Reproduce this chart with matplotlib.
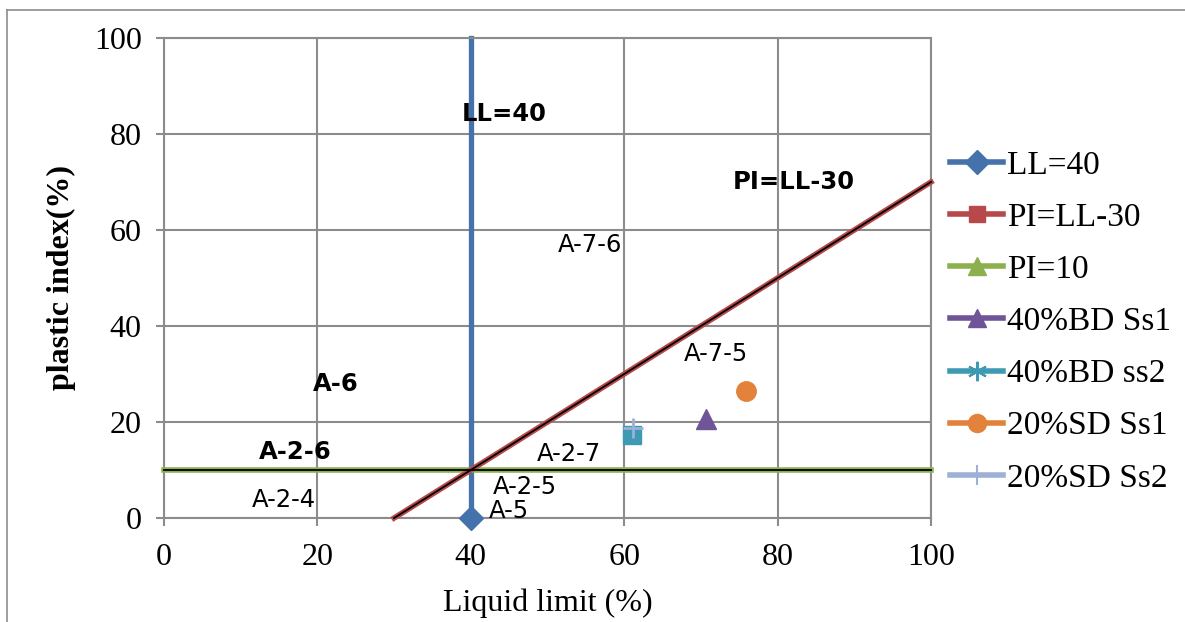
import matplotlib
matplotlib.use("Agg")
import matplotlib.pyplot as plt
from matplotlib.lines import Line2D

# ---- data ----
ll40_x = [40, 40]
ll40_y = [0, 100]
pi_ll30_x = [30, 100]
pi_ll30_y = [0, 70]
pi10_x = [0, 100]
pi10_y = [10, 10]

bd_ss1 = (70.6, 20.6)
bd_ss2 = (61.0, 17.3)
sd_ss1 = (75.9, 26.5)
sd_ss2 = (61.2, 18.8)

zone_labels = ["LL=40", "PI=LL-30", "A-7-6", "A-6", "A-7-5", "A-2-6", "A-2-7", "A-2-4", "A-2-5", "A-5"]
zone_x = [44.3, 82.1, 55.5, 22.4, 72.0, 17.1, 52.8, 15.6, 47.1, 44.9]
zone_y = [84.1, 70.1, 56.9, 27.9, 34.2, 13.75, 13.3, 3.75, 6.5, 1.5]
zone_bold = [True, True, False, True, False, True, False, False, False, False]

x_ticks = [0, 20, 40, 60, 80, 100]
y_ticks = [0, 20, 40, 60, 80, 100]

legend_labels = ["LL=40", "PI=LL-30", "PI=10", "40%BD Ss1", "40%BD ss2", "20%SD Ss1", "20%SD Ss2"]

# ---- colours ----
c_blue = "#4672AC"
c_red = "#B8494A"
c_green = "#8DB04E"
c_purple = "#6F5597"
c_teal = "#3E9AB2"
c_orange = "#E3823B"
c_lblue = "#9DB0D8"
grid_c = "#8C8C8C"

fig = plt.figure(figsize=(11.85, 6.22), dpi=100)
ax = fig.add_axes([164/1185, 1-518/622, (931-164)/1185, (518-38)/622])

ax.set_xlim(0, 100)
ax.set_ylim(0, 100)
ax.set_xticks(x_ticks)
ax.set_yticks(y_ticks)
ax.grid(True, color=grid_c, linewidth=1.5, zorder=0)
for s in ax.spines.values():
    s.set_color(grid_c)
    s.set_linewidth(1.5)
ax.tick_params(direction="out", length=6, width=1.5, color=grid_c)
ax.tick_params(axis="x", pad=12)
ax.tick_params(axis="y", pad=10)
for lab in ax.get_xticklabels() + ax.get_yticklabels():
    lab.set_fontfamily("Liberation Serif")
    lab.set_fontsize(23)

# lines
ax.plot(pi10_x, pi10_y, color=c_green, linewidth=4, zorder=3, clip_on=False)
ax.plot(pi10_x, pi10_y, color="black", linewidth=1.3, zorder=3.1, clip_on=False)
ax.plot(pi_ll30_x, pi_ll30_y, color=c_red, linewidth=4, zorder=3, clip_on=False)
ax.plot(pi_ll30_x, pi_ll30_y, color="black", linewidth=1.3, zorder=3.1, clip_on=False)
ax.plot(ll40_x, ll40_y, color=c_blue, linewidth=3.8, zorder=2.5, clip_on=False)
ax.plot([ll40_x[0]], [ll40_y[0]], marker="D", color=c_blue, markersize=12, zorder=4, clip_on=False)

# samples
ax.plot(*bd_ss1, marker="^", color=c_purple, markersize=15, linestyle="none", zorder=5)
ax.plot(*bd_ss2, marker="s", color=c_teal, markersize=13, linestyle="none", zorder=5)
ax.plot(*sd_ss1, marker="o", color=c_orange, markersize=14, linestyle="none", zorder=5)
ax.plot(*sd_ss2, marker="+", color=c_lblue, markersize=14, markeredgewidth=2, linestyle="none", zorder=6)

for t, x, y, b in zip(zone_labels, zone_x, zone_y, zone_bold):
    ax.text(x, y, t, ha="center", va="center", fontsize=17.5,
            fontfamily="DejaVu Sans", fontweight="bold" if b else "normal",
            color="black", zorder=7)

ax.set_xlabel("Liquid limit (%)", fontfamily="Liberation Serif", fontsize=23, labelpad=12)
ax.set_ylabel("plastic index(%)", fontfamily="Liberation Serif", fontsize=23,
              fontweight="bold", labelpad=20)
ax.yaxis.set_label_coords(-0.115, 0.5)

handles = [
    Line2D([], [], color=c_blue, linewidth=4, marker="D", markersize=12),
    Line2D([], [], color=c_red, linewidth=4, marker="s", markersize=12),
    Line2D([], [], color=c_green, linewidth=4, marker="^", markersize=13),
    Line2D([], [], color=c_purple, linewidth=4, marker="^", markersize=13),
    Line2D([], [], color=c_teal, linewidth=4, marker=(6, 2, 0), markersize=14, markeredgewidth=1.5),
    Line2D([], [], color=c_orange, linewidth=4, marker="o", markersize=13),
    Line2D([], [], color=c_lblue, linewidth=4, marker="|", markersize=14, markeredgewidth=1.5),
]
leg = fig.legend(handles, legend_labels, loc="upper left",
                 bbox_to_anchor=(950/1185, 1-150/622), frameon=False,
                 prop={"family": "Liberation Serif", "size": 24},
                 handlelength=1.6, handletextpad=0.1, labelspacing=0.65,
                 borderaxespad=0, borderpad=0)

# outer chart border
fig.add_artist(Line2D([7/1185, 7/1185], [0, 1-10/622], color=grid_c, linewidth=1.2, transform=fig.transFigure))
fig.add_artist(Line2D([7/1185, 1], [1-10/622, 1-10/622], color=grid_c, linewidth=1.2, transform=fig.transFigure))

fig.savefig("out.png", dpi=100)
